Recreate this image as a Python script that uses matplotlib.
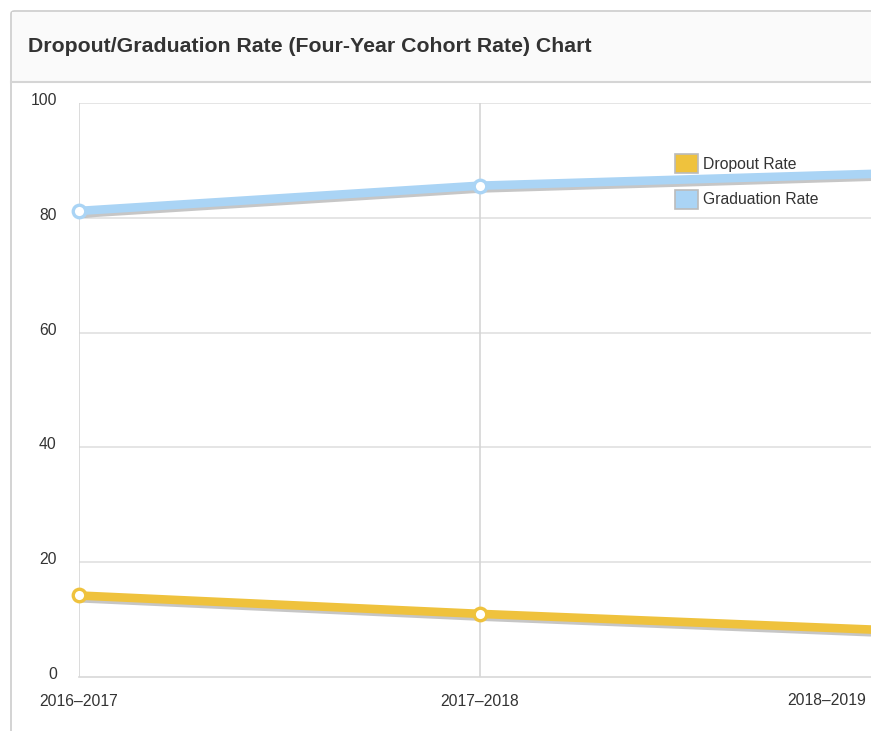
import matplotlib
matplotlib.use("Agg")
import matplotlib.pyplot as plt
import matplotlib.patheffects as pe
import matplotlib.transforms as mtransforms
from matplotlib.patches import Patch, Rectangle, FancyBboxPatch

years = ["2016\u20132017", "2017\u20132018", "2018\u20132019"]
dropout = [14.2, 11.0, 8.2]
graduation = [81.2, 85.6, 87.7]
yticks = [0, 20, 40, 60, 80, 100]
title = "Dropout/Graduation Rate (Four-Year Cohort Rate) Chart"

gold = "#EFC23D"
blue = "#AAD4F5"
txt = "#333333"

plt.rcParams['font.family'] = ['Liberation Sans', 'DejaVu Sans']

W, H = 871, 731
fig = plt.figure(figsize=(W / 100, H / 100), dpi=100)

def fx(px):
    return px / W

def fy(py):
    return 1 - py / H

# panel
panel = FancyBboxPatch((fx(11), fy(760)), fx(900), fy(11) - fy(760),
                       boxstyle="round,pad=0,rounding_size=0.004",
                       transform=fig.transFigure, facecolor="white",
                       edgecolor="#cccccc", linewidth=1.2, zorder=0)
fig.patches.append(panel)
header = Rectangle((fx(12), fy(82)), fx(900), fy(12) - fy(82),
                   transform=fig.transFigure, facecolor="#fafafa",
                   edgecolor="none", zorder=0.5)
fig.patches.append(header)
fig.add_artist(plt.Line2D([fx(11), 1], [fy(82), fy(82)], transform=fig.transFigure,
                          color="#d5d5d5", linewidth=1.5, zorder=1))
fig.text(fx(28), fy(47), title, fontsize=15.3, fontweight="bold", color=txt,
         va="center", ha="left", zorder=3)

left = fx(79)
bottom = fy(677)
top = fy(103)
ax = fig.add_axes([left, bottom, 1 - left, top - bottom])
ax.set_zorder(2)
ax.set_facecolor("none")
x = list(range(len(years)))
ax.set_xlim(0, (871 - 79) / 401)
ax.set_ylim(0, 100)

for s in ["top", "right", "left"]:
    ax.spines[s].set_visible(False)
ax.spines["bottom"].set_color("#d8d8d8")
ax.spines["bottom"].set_linewidth(1.2)

fs = 11.3
ax.set_yticks(yticks)
ax.set_yticklabels([str(v) for v in yticks], fontsize=fs, color=txt)
ax.tick_params(axis="y", length=0, pad=16)
up = mtransforms.ScaledTranslation(0, 4 / 100, fig.dpi_scale_trans)
for lab in ax.get_yticklabels():
    lab.set_transform(lab.get_transform() + up)
ax.set_xticks(x[:2])
ax.set_xticklabels(years[:2], fontsize=fs, color=txt)
ax.tick_params(axis="x", length=0, pad=12)
ax.text(1.0, 0, years[2], ha="right", va="center", fontsize=fs, color=txt,
        transform=ax.transAxes + mtransforms.ScaledTranslation(-5 / 100, -23.5 / 100, fig.dpi_scale_trans))
for yv in yticks[1:]:
    ax.axhline(yv, color="#e0e0e0", linewidth=1.2, zorder=1)
for xv in x[:2]:
    ax.axvline(xv, color="#d5d5d5", linewidth=1.2, zorder=1)

shadow = [pe.SimpleLineShadow(offset=(1, -2), shadow_color="#444444", alpha=0.3),
          pe.Normal()]
for vals, col in [(dropout, gold), (graduation, blue)]:
    ax.plot(x, vals, color=col, linewidth=6.2, solid_capstyle="butt",
            path_effects=shadow, zorder=3, clip_on=False)
    ax.plot(x, vals, linestyle="none", marker="o", markersize=9,
            markerfacecolor="white", markeredgecolor=col, markeredgewidth=2.4,
            zorder=4, clip_on=False)

handles = [Patch(facecolor=gold, edgecolor="#bbbbbb", linewidth=1.2),
           Patch(facecolor=blue, edgecolor="#bbbbbb", linewidth=1.2)]
leg = ax.legend(handles, ["Dropout Rate", "Graduation Rate"], frameon=False,
                loc="upper left", bbox_to_anchor=(fx(675), fy(154)),
                bbox_transform=fig.transFigure, fontsize=fs,
                handlelength=1.45, handleheight=1.45, handletextpad=0.35,
                labelspacing=1.1, borderpad=0, borderaxespad=0)
for t in leg.get_texts():
    t.set_color(txt)

fig.savefig("out.png", dpi=100)
